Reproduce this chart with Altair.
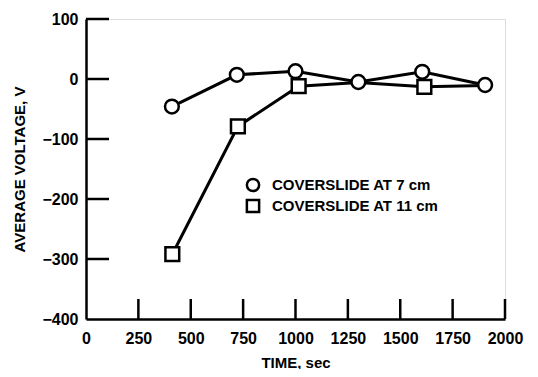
import altair as alt
import pandas as pd

# ---- data ----
time_7 = [410, 720, 1000, 1300, 1605, 1905]
volt_7 = [-46, 7, 13, -5, 12, -10]
time_11 = [412, 725, 1015, 1300, 1615, 1905]
volt_11 = [-292, -79, -12, -6, -13, -11]
marked_11 = [True, True, True, False, True, False]

x_labels = [0, 250, 500, 750, 1000, 1250, 1500, 1750, 2000]
y_labels = [-400, -300, -200, -100, 0, 100]
x_ticks = [250, 500, 750, 1000, 1250, 1500, 1750, 2000]
y_ticks = [-300, -200, -100, 0, 100]
legend_labels = ["COVERSLIDE AT 7 cm", "COVERSLIDE AT 11 cm"]

FONT = "Liberation Sans"

df7 = pd.DataFrame({"t": time_7, "v": volt_7})
df11 = pd.DataFrame({"t": time_11, "v": volt_11, "m": marked_11})

xs = alt.Scale(domain=[0, 2000], nice=False, zero=False)
ys = alt.Scale(domain=[-400, 100], nice=False, zero=False)

X = alt.X("t:Q", scale=xs, axis=alt.Axis(
    values=x_labels, format="d", title="TIME, sec", ticks=False, grid=False,
    domainColor="black", domainWidth=2.5, labelFont=FONT, labelFontSize=16,
    labelFontWeight="bold", labelColor="black", labelPadding=11,
    titleFont=FONT, titleFontSize=15, titleFontWeight="bold", titleColor="black",
    titlePadding=9, labelFlush=False, labelOverlap=False))
Y = alt.Y("v:Q", scale=ys, axis=alt.Axis(
    values=y_labels, format="d", title="AVERAGE VOLTAGE, V", ticks=False, grid=False,
    domainColor="black", domainWidth=2.5, labelFont=FONT, labelFontSize=16,
    labelFontWeight="bold", labelColor="black", labelPadding=8,
    titleFont=FONT, titleFontSize=15, titleFontWeight="bold", titleColor="black",
    titlePadding=14, labelFlush=False, labelOverlap=False))

line7 = alt.Chart(df7).mark_line(color="black", strokeWidth=3).encode(x=X, y=Y)
line11 = alt.Chart(df11).mark_line(color="black", strokeWidth=3).encode(x=X, y=Y)
sq = alt.Chart(df11).transform_filter("datum.m").mark_point(
    shape="square", size=190, filled=True, fill="white", stroke="black",
    strokeWidth=2.5, opacity=1).encode(x=X, y=Y)
circ = alt.Chart(df7).mark_point(
    shape="circle", size=190, filled=True, fill="white", stroke="black",
    strokeWidth=2.5, opacity=1).encode(x=X, y=Y)

ytick = alt.Chart(pd.DataFrame({"v": y_ticks})).mark_rule(
    color="black", strokeWidth=2.5).encode(
    y=alt.Y("v:Q", scale=ys), x=alt.value(0), x2=alt.value(23))
xtick = alt.Chart(pd.DataFrame({"t": x_ticks})).mark_rule(
    color="black", strokeWidth=2.5).encode(
    x=alt.X("t:Q", scale=xs), y=alt.value(300), y2=alt.value(280))

leg_c = alt.Chart(pd.DataFrame({"label": [legend_labels[0]]})).mark_point(
    shape="circle", size=150, filled=True, fill="white", stroke="black",
    strokeWidth=2.5, opacity=1).encode(x=alt.value(167), y=alt.value(166))
leg_s = alt.Chart(pd.DataFrame({"label": [legend_labels[1]]})).mark_point(
    shape="square", size=150, filled=True, fill="white", stroke="black",
    strokeWidth=2.5, opacity=1).encode(x=alt.value(167), y=alt.value(187))
leg_t1 = alt.Chart(pd.DataFrame({"label": [legend_labels[0]]})).mark_text(
    align="left", baseline="middle", font=FONT, fontSize=15, fontWeight="bold",
    color="black").encode(text="label:N", x=alt.value(186), y=alt.value(166))
leg_t2 = alt.Chart(pd.DataFrame({"label": [legend_labels[1]]})).mark_text(
    align="left", baseline="middle", font=FONT, fontSize=15, fontWeight="bold",
    color="black").encode(text="label:N", x=alt.value(186), y=alt.value(187))

chart = alt.layer(line7, line11, sq, circ, ytick, xtick,
                  leg_c, leg_s, leg_t1, leg_t2).properties(
    width=419, height=300,
    autosize=alt.AutoSizeParams(type="none"),
    padding={"left": 78, "top": 11, "right": 25, "bottom": 50},
).configure_view(stroke=None).configure(background="white")

chart.save("out.html", embed_options={"renderer": "svg", "actions": False})
